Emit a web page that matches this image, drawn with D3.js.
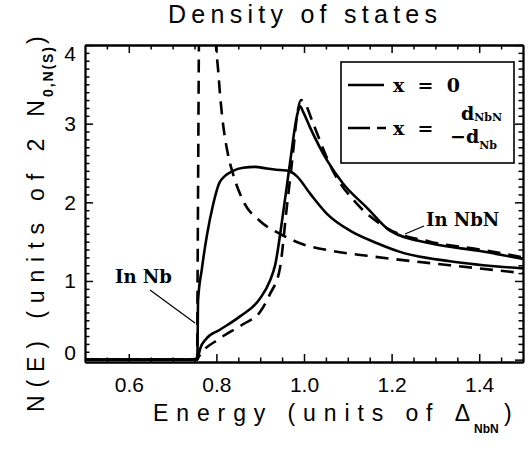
<!DOCTYPE html>
<html>
<head>
<meta charset="utf-8">
<script src="https://cdn.jsdelivr.net/npm/d3@7"></script>
<style>
  body { margin: 0; background: #fff; }
  .tick text { font-family: "Liberation Sans", sans-serif; font-size: 21px; fill: #000; }
  .hersh { font-family: "Liberation Sans", sans-serif; fill: #000; }
  .serif { font-family: "DejaVu Serif", serif; font-weight: bold; fill: #000; }
</style>
</head>
<body>
<svg id="chart"></svg>
<script>
// curves: [energy, N(E)]
const nbSolid = [[0.5,0],[0.756,0],[0.757,0.15],[0.758,0.74],[0.767,1.16],[0.779,1.60],[0.792,1.96],
  [0.808,2.26],[0.838,2.40],[0.861,2.44],[0.888,2.45],[0.916,2.43],[0.945,2.41],[0.965,2.40],[0.984,2.33],
  [1.014,2.11],[1.053,1.85],[1.105,1.64],[1.167,1.48],[1.219,1.37],[1.333,1.25],[1.5,1.16]];
const nbDashed = [[0.5,0],[0.756,0],[0.757,1.0],[0.7585,2.5],[0.7605,4.3],[0.778,8],[0.799,4.0],[0.804,3.68],
  [0.808,3.39],[0.813,3.10],[0.826,2.62],[0.838,2.36],[0.861,2.02],[0.90,1.76],[0.945,1.60],[0.991,1.48],
  [1.066,1.38],[1.144,1.32],[1.203,1.28],[1.333,1.20],[1.5,1.10]];
const nbnSolid = [[0.5,0],[0.756,0],[0.7585,0.04],[0.763,0.14],[0.776,0.26],[0.808,0.38],[0.854,0.55],
  [0.90,0.78],[0.922,1.0],[0.934,1.2],[0.952,1.85],[0.968,2.5],[0.984,3.1],[0.991,3.22],[0.998,3.15],
  [1.014,2.95],[1.053,2.53],[1.089,2.24],[1.144,1.93],[1.196,1.64],[1.288,1.48],[1.402,1.38],[1.5,1.28]];
const nbnDashed = [[0.5,0],[0.756,0],[0.758,0.02],[0.808,0.27],[0.861,0.45],[0.90,0.61],[0.922,0.83],
  [0.945,1.16],[0.96,1.9],[0.973,2.53],[0.986,3.17],[0.993,3.30],[1.002,3.26],[1.021,3.0],[1.066,2.40],
  [1.121,1.98],[1.19,1.67],[1.288,1.50],[1.402,1.40],[1.5,1.30]];

const xTicks = [0.6, 0.8, 1.0, 1.2, 1.4];
const yTicks = [0, 1, 2, 3, 4];

class DosPlot {
  constructor(_config) {
    this.config = {
      parentElement: _config.parentElement,
      containerWidth: _config.containerWidth || 531,
      containerHeight: _config.containerHeight || 451,
      margin: _config.margin || {top: 45, right: 8, bottom: 89, left: 85}
    };
    this.initVis();
  }

  initVis() {
    let vis = this;
    vis.width = vis.config.containerWidth - vis.config.margin.left - vis.config.margin.right;
    vis.height = vis.config.containerHeight - vis.config.margin.top - vis.config.margin.bottom;

    vis.svg = d3.select(vis.config.parentElement)
      .attr('width', vis.config.containerWidth)
      .attr('height', vis.config.containerHeight);

    vis.chart = vis.svg.append('g')
      .attr('transform', `translate(${vis.config.margin.left},${vis.config.margin.top})`);

    vis.xScale = d3.scaleLinear().domain([0.5, 1.5]).range([0, vis.width]);
    vis.yScale = d3.scaleLinear().domain([-0.03, 4]).range([vis.height, 0]);

    vis.svg.append('defs').append('clipPath').attr('id', 'clip')
      .append('rect').attr('width', vis.width).attr('height', vis.height);

    vis.drawAxes();
    vis.renderVis();
  }

  drawAxes() {
    let vis = this;
    const xMinor = d3.range(0.55, 1.5, 0.05).filter(v => !xTicks.some(t => Math.abs(t - v) < 1e-6));
    const yMinor = d3.range(0.1, 4.0, 0.1).filter(v => !yTicks.some(t => Math.abs(t - v) < 1e-6));

    const styleAxis = g => {
      g.select('.domain').attr('stroke-width', 1.8);
      g.selectAll('.tick line').attr('stroke', '#000').attr('stroke-width', 1.5);
    };

    // bottom
    vis.chart.append('g').attr('transform', `translate(0,${vis.height})`)
      .call(d3.axisBottom(vis.xScale).tickValues(xTicks).tickFormat(d3.format('.1f'))
        .tickSize(-8).tickSizeOuter(0).tickPadding(15)).call(styleAxis);
    vis.chart.append('g').attr('transform', `translate(0,${vis.height})`)
      .call(d3.axisBottom(vis.xScale).tickValues(xMinor).tickFormat('').tickSize(-4.5).tickSizeOuter(0))
      .call(styleAxis);
    // top
    vis.chart.append('g')
      .call(d3.axisTop(vis.xScale).tickValues(xTicks).tickFormat('').tickSize(-8).tickSizeOuter(0)).call(styleAxis);
    vis.chart.append('g')
      .call(d3.axisTop(vis.xScale).tickValues(xMinor).tickFormat('').tickSize(-4.5).tickSizeOuter(0)).call(styleAxis);
    // left
    vis.yAxisG = vis.chart.append('g')
      .call(d3.axisLeft(vis.yScale).tickValues(yTicks).tickFormat(d3.format('d'))
        .tickSize(-8).tickSizeOuter(0).tickPadding(9)).call(styleAxis);
    vis.chart.append('g')
      .call(d3.axisLeft(vis.yScale).tickValues(yMinor).tickFormat('').tickSize(-4.5).tickSizeOuter(0)).call(styleAxis);
    // right
    vis.chart.append('g').attr('transform', `translate(${vis.width},0)`)
      .call(d3.axisRight(vis.yScale).tickValues(yTicks).tickFormat('').tickSize(-8).tickSizeOuter(0)).call(styleAxis);
    vis.chart.append('g').attr('transform', `translate(${vis.width},0)`)
      .call(d3.axisRight(vis.yScale).tickValues(yMinor).tickFormat('').tickSize(-4.5).tickSizeOuter(0)).call(styleAxis);

    // keep end labels inside the axis range like the original
    vis.yAxisG.selectAll('.tick text').attr('dy', d => d === 4 ? '0.75em' : d === 0 ? '0em' : '0.32em');
  }

  renderVis() {
    let vis = this;
    const line = d3.line()
      .x(d => vis.xScale(d[0]))
      .y(d => vis.yScale(d[1]))
      .curve(d3.curveMonotoneX);

    const curves = [
      {data: nbSolid, dash: null},
      {data: nbnSolid, dash: null},
      {data: nbDashed, dash: '13,8'},
      {data: nbnDashed, dash: '13,8'}
    ];

    vis.chart.append('g').attr('clip-path', 'url(#clip)')
      .selectAll('path').data(curves).join('path')
        .attr('d', d => line(d.data))
        .attr('fill', 'none')
        .attr('stroke', '#000')
        .attr('stroke-width', 2.6)
        .attr('stroke-dasharray', d => d.dash);

    // annotations
    vis.svg.append('text').attr('class', 'serif').attr('x', 115).attr('y', 283)
      .style('font-size', '18px').text('In Nb');
    vis.svg.append('line').attr('x1', 150).attr('y1', 290).attr('x2', 195).attr('y2', 323)
      .attr('stroke', '#000').attr('stroke-width', 1.2);
    vis.svg.append('text').attr('class', 'serif').attr('x', 426).attr('y', 226)
      .style('font-size', '18px').text('In NbN');
    vis.svg.append('line').attr('x1', 424).attr('y1', 226).attr('x2', 405).attr('y2', 234)
      .attr('stroke', '#000').attr('stroke-width', 1.2);

    // legend
    const lg = vis.svg.append('g');
    lg.append('rect').attr('x', 341).attr('y', 62).attr('width', 173).attr('height', 101)
      .attr('fill', '#fff').attr('stroke', '#000').attr('stroke-width', 1.6);
    lg.append('line').attr('x1', 348).attr('x2', 384).attr('y1', 85).attr('y2', 85)
      .attr('stroke', '#000').attr('stroke-width', 2.6);
    lg.append('line').attr('x1', 348).attr('x2', 386).attr('y1', 128).attr('y2', 128)
      .attr('stroke', '#000').attr('stroke-width', 2.6).attr('stroke-dasharray', '22,7');
    lg.append('text').attr('class', 'serif').attr('x', 393).attr('y', 92)
      .style('font-size', '19px').attr('xml:space', 'preserve').text('x  =  0');
    lg.append('text').attr('class', 'serif').attr('x', 393).attr('y', 135)
      .style('font-size', '19px').attr('xml:space', 'preserve').text('x  =');
    const up = lg.append('text').attr('class', 'serif').attr('x', 461).attr('y', 120).style('font-size', '19px');
    up.append('tspan').text('d');
    up.append('tspan').attr('dy', 1).style('font-size', '11px').text('NbN');
    const lo = lg.append('text').attr('class', 'serif').attr('x', 450).attr('y', 143).style('font-size', '19px');
    lo.append('tspan').text('−d');
    lo.append('tspan').attr('dy', 6).style('font-size', '11px').text('Nb');

    // titles (wide stroke font of the original, so widths are fixed)
    vis.svg.append('text').attr('class', 'hersh').attr('x', 168).attr('y', 23)
      .attr('textLength', 269).attr('lengthAdjust', 'spacing')
      .style('font-size', '25px').text('Density of states');

    vis.svg.append('text').attr('class', 'hersh').attr('x', 153).attr('y', 421)
      .attr('textLength', 317).attr('lengthAdjust', 'spacing')
      .style('font-size', '23px').text('Energy (units of Δ');
    vis.svg.append('text').attr('class', 'hersh').attr('x', 474).attr('y', 433)
      .style('font-size', '12px').style('font-weight', 'bold').text('NbN');
    vis.svg.append('text').attr('class', 'hersh').attr('x', 504).attr('y', 421)
      .style('font-size', '23px').text(')');

    vis.svg.append('text').attr('class', 'hersh')
      .attr('transform', 'translate(44,412) rotate(-90)')
      .attr('textLength', 312).attr('lengthAdjust', 'spacing')
      .style('font-size', '23px').text('N(E) (units of 2 N');
    vis.svg.append('text').attr('class', 'hersh')
      .attr('transform', 'translate(53,97) rotate(-90)')
      .attr('textLength', 50).attr('lengthAdjust', 'spacing')
      .style('font-size', '14px').style('font-weight', 'bold').text('0,N(S)');
    vis.svg.append('text').attr('class', 'hersh')
      .attr('transform', 'translate(44,44) rotate(-90)')
      .style('font-size', '23px').text(')');
  }
}

new DosPlot({parentElement: '#chart'});
</script>
</body>
</html>
